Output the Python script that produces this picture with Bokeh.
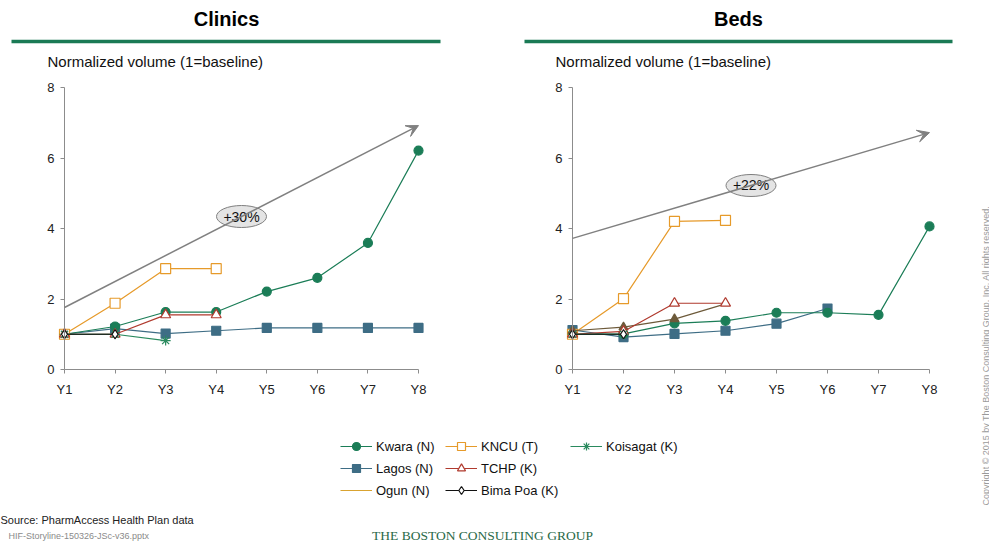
import math
from bokeh.plotting import figure
from bokeh.models import (Range1d, FixedTicker, Arrow, VeeHead, Legend, LegendItem)
from bokeh.layouts import row, column
from bokeh.core.properties import value
from bokeh.embed import file_html
from bokeh.resources import INLINE

# ---------------- data ----------------
years = ["Y1", "Y2", "Y3", "Y4", "Y5", "Y6", "Y7", "Y8"]
y_ticks = [0, 2, 4, 6, 8]

clinics_kwara = [1.0, 1.22, 1.63, 1.63, 2.21, 2.6, 3.59, 6.21]
clinics_lagos = [1.0, 1.16, 1.02, 1.1, 1.18, 1.18, 1.18, 1.18]
clinics_ogun = [1.0]
clinics_kncu = [1.0, 1.88, 2.86, 2.86]
clinics_tchp = [1.0, 1.0, 1.55, 1.55]
clinics_koisagat = [1.0, 1.0, 0.82]
clinics_bima = [1.0, 1.0]

beds_kwara = [1.0, 1.01, 1.31, 1.38, 1.61, 1.61, 1.55, 4.06]
beds_lagos = [1.12, 0.92, 1.01, 1.1, 1.3, 1.73]
beds_ogun = [1.0]
beds_kncu = [1.0, 2.01, 4.2, 4.23]
beds_tchp = [1.0, 1.08, 1.88, 1.88]
beds_other = [1.1, 1.2, 1.43, 1.86]      # unlabelled brown series
beds_koisagat = [1.0, 1.0]
beds_bima = [1.0, 1.0]

clinics_trend = [1.76, 6.92]   # value at Y1 and at Y8
beds_trend = [3.72, 6.72]
trend_labels = ["+30%", "+22%"]

panel_titles = ["Clinics", "Beds"]
y_title = "Normalized volume (1=baseline)"
legend_names = ["Kwara (N)", "Lagos (N)", "Ogun (N)", "KNCU (T)", "TCHP (K)", "Bima Poa (K)", "Koisagat (K)"]

# ---------------- styles ----------------
FONT = "Liberation Sans"
GREEN = "#1b7d57"
STY = {
    "Kwara (N)":    dict(color=GREEN, marker="circle", fill=GREEN, size=9, lw=1.2),
    "Lagos (N)":    dict(color="#3e6d85", marker="square", fill="#3e6d85", size=9, lw=1.2),
    "Ogun (N)":     dict(color="#d9a330", marker=None, fill=None, size=0, lw=1.2),
    "KNCU (T)":     dict(color="#e69a2a", marker="square", fill="white", size=10, lw=1.2),
    "TCHP (K)":     dict(color="#b03a2e", marker="triangle", fill="white", size=10, lw=1.2),
    "Bima Poa (K)": dict(color="#111111", marker="diamond", fill="white", size=9, lw=1.2),
    "Koisagat (K)": dict(color="#2a8a5e", marker="asterisk", fill=None, size=10, lw=1.2),
    "other":        dict(color="#6d5a3a", marker="triangle", fill="#6d5a3a", size=9, lw=1.2),
}

Y_PX = 35.25          # pixels per y-unit
CH_TOP = 75           # window y of chart figures' top
CH_H = 330
Y0_PX, Y8_PX = 369, 87


def marker_kw(s):
    kw = dict(marker=s["marker"], size=s["size"], line_color=s["color"], line_width=1.2)
    if s["fill"]:
        kw["fill_color"] = s["fill"]
    else:
        kw["fill_alpha"] = 0
    return kw


def add_series(p, vals, key, n_markers=None):
    s = STY[key]
    xs = list(range(len(vals)))
    p.line(xs, vals, line_color=s["color"], line_width=s["lw"])
    if s["marker"]:
        m = len(vals) if n_markers is None else n_markers
        p.scatter(xs[:m], vals[:m], **marker_kw(s))


def make_chart(width, axis_px, end_px, fl, series, trend, label):
    sx = (end_px - axis_px) / 7.0
    fr = end_px + 12
    x0 = -(axis_px - fl) / sx
    x1 = 7 + (fr - end_px) / sx
    y1 = 8 + (Y8_PX - CH_TOP) / Y_PX
    y0 = -(CH_TOP + CH_H - Y0_PX) / Y_PX
    p = figure(width=width, height=CH_H, output_backend="svg", toolbar_location=None,
               x_range=Range1d(x0, x1), y_range=Range1d(y0, y1),
               min_border_left=fl, min_border_right=width - fr,
               min_border_top=0, min_border_bottom=0)
    p.outline_line_color = None
    p.grid.visible = False
    p.xaxis.ticker = FixedTicker(ticks=list(range(len(years))))
    p.xaxis.major_label_overrides = {i: y for i, y in enumerate(years)}
    p.yaxis.ticker = FixedTicker(ticks=y_ticks)
    p.xaxis.fixed_location = 0
    p.yaxis.fixed_location = 0
    p.xaxis.bounds = (0, 7)
    p.yaxis.bounds = (0, 8)
    for ax in (p.xaxis, p.yaxis):
        ax.axis_line_color = "#8c8c8c"
        ax.major_tick_line_color = "#8c8c8c"
        ax.minor_tick_line_color = None
        ax.major_tick_in = 0
        ax.major_tick_out = 4
        ax.major_label_text_font = FONT
        ax.major_label_text_font_size = "13px"
        ax.major_label_text_color = "#222222"
    p.xaxis.major_label_standoff = 8
    p.yaxis.major_label_standoff = 6

    # trend arrow
    p.add_layout(Arrow(x_start=0, y_start=trend[0], x_end=7, y_end=trend[1],
                       line_color="#808080", line_width=1.5,
                       end=VeeHead(size=12, line_color="#808080", fill_color="#808080")))
    mx = 3.5
    my = trend[0] + (trend[1] - trend[0]) * mx / 7
    p.ellipse(x=mx, y=my, width=50 / sx, height=22 / Y_PX, fill_color="#e4e4e4",
              line_color="#7f7f7f", line_width=1)
    p.text(x=[mx], y=[my], text=[label], text_align="center", text_baseline="middle",
           text_font=value(FONT), text_font_size="14px", text_color="#111111")

    for vals, key, nm in series:
        add_series(p, vals, key, nm)
    return p


left = make_chart(500, 64, 418, 20,
                  [(clinics_ogun, "Ogun (N)", None), (clinics_lagos, "Lagos (N)", None),
                   (clinics_kwara, "Kwara (N)", None), (clinics_kncu, "KNCU (T)", None),
                   (clinics_tchp, "TCHP (K)", None), (clinics_koisagat, "Koisagat (K)", None),
                   (clinics_bima, "Bima Poa (K)", None)],
                  clinics_trend, trend_labels[0])
right = make_chart(470, 72, 429, 28,
                   [(beds_ogun, "Ogun (N)", None), (beds_lagos, "Lagos (N)", None),
                    (beds_kwara, "Kwara (N)", None), (beds_kncu, "KNCU (T)", None),
                    (beds_other, "other", 3), (beds_tchp, "TCHP (K)", None),
                    (beds_koisagat, "Koisagat (K)", None), (beds_bima, "Bima Poa (K)", None)],
                   beds_trend, trend_labels[1])


def blank(w, h):
    p = figure(width=w, height=h, output_backend="svg", toolbar_location=None,
               x_range=Range1d(0, w), y_range=Range1d(h, 0),
               x_axis_type=None, y_axis_type=None,
               min_border=0, min_border_left=0, min_border_right=0,
               min_border_top=0, min_border_bottom=0)
    p.outline_line_color = None
    p.grid.visible = False
    return p


# ---------------- header ----------------
header = blank(970, 75)
header.text(x=[226, 738], y=[18, 18], text=panel_titles, text_align="center",
            text_baseline="middle", text_font=value(FONT), text_font_style="bold",
            text_font_size="20px", text_color="#000000")
header.segment(x0=[11, 524], y0=[41, 41], x1=[440, 952], y1=[41, 41],
               line_color="#1a7a55", line_width=3.5)
header.text(x=[47, 555], y=[61, 61], text=[y_title, y_title], text_align="left",
            text_baseline="middle", text_font=value(FONT), text_font_size="15px",
            text_color="#111111")

# ---------------- bottom: legend + footer ----------------
BH = 137
bottom = blank(970, BH)
cols = [legend_names[0:3], legend_names[3:6], legend_names[6:7]]
col_x = [340, 445, 570]
for names, cx in zip(cols, col_x):
    items = []
    for nm in names:
        s = STY[nm]
        # placeholder renderers outside the visible area, only used by the legend
        rs = [bottom.line(x=[-500, -400], y=[-500, -500], line_color=s["color"], line_width=s["lw"])]
        if s["marker"]:
            rs.append(bottom.scatter(x=[-500], y=[-500], **marker_kw(s)))
        items.append(LegendItem(label=nm, renderers=rs))
    n = len(items)
    h = n * 20 + (n - 1) * 2
    lg = Legend(items=items, location=(cx, BH - 31 - h), orientation="vertical",
                glyph_width=32, glyph_height=20, label_height=20, spacing=2,
                label_standoff=4, padding=0, margin=0,
                border_line_alpha=0, background_fill_alpha=0,
                label_text_font=FONT, label_text_font_size="13px",
                label_text_color="#111111")
    bottom.add_layout(lg)

bottom.text(x=[0], y=[114], text=["Source: PharmAccess Health Plan data"], text_align="left",
            text_baseline="middle", text_font=value(FONT), text_font_size="11px",
            text_color="#222222")
bottom.text(x=[8], y=[130], text=["HIF-Storyline-150326-JSc-v36.pptx"], text_align="left",
            text_baseline="middle", text_font=value(FONT), text_font_size="9px",
            text_color="#8a8a8a")

# logo text
bottom.text(x=[482], y=[130], text=["THE BOSTON CONSULTING GROUP"], text_align="center",
            text_baseline="alphabetic", text_font=value("Liberation Serif"),
            text_font_size="13.5px", text_color="#2a6a48")

# ---------------- copyright strip ----------------
strip = blank(19, 542)
strip.text(x=[15], y=[355], text=["Copyright © 2015 by The Boston Consulting Group, Inc. All rights reserved."],
           angle=math.pi / 2, text_align="center", text_baseline="middle",
           text_font=value(FONT), text_font_size="9px", text_color="#9a9a9a")

layout = row(column(header, row(left, right), bottom), strip)

open("out.html", "w").write(file_html(layout, INLINE))
